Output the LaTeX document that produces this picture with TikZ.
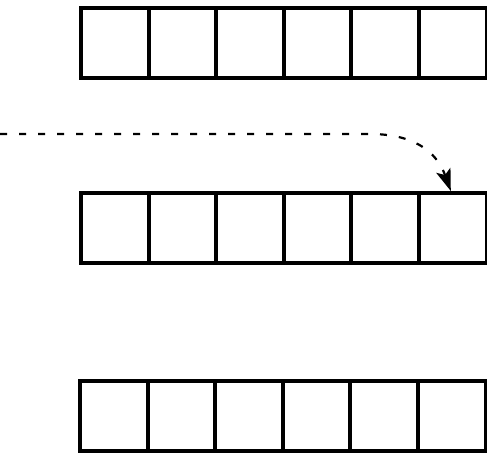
\documentclass[tikz,border=0pt]{standalone}
\usetikzlibrary{arrows.meta}
\begin{document}
\begin{tikzpicture}[x=1pt,y=-1pt,
  cell/.style={draw=black,line width=4pt,minimum width=67.6pt,minimum height=70pt,inner sep=0pt,anchor=north west},
  flow/.style={draw=black,line width=2.2pt,dash pattern=on 7pt off 12pt,-{Stealth[length=22pt,width=15pt,inset=5pt]}}]
\useasboundingbox (0,0) rectangle (487,455);
\foreach \i in {1,...,6}{
  \node[cell] (r1c\i) at ({79+(\i-1)*67.6},6) {};
  \node[cell] (r2c\i) at ({79+(\i-1)*67.6},191) {};
  \node[cell] (r3c\i) at ({78+(\i-1)*67.6},379) {};
}
\coordinate (start) at (0,134);
\draw[flow] (start) -- (370,134) .. controls (412,134) and (436,150) .. ([xshift=-2pt]r2c6.north);
\end{tikzpicture}
\end{document}
